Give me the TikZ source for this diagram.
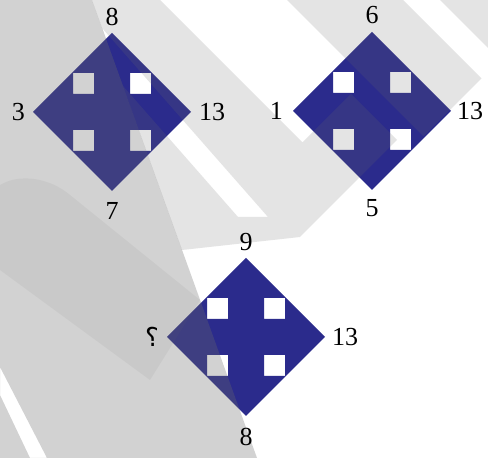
\documentclass[tikz,border=0pt]{standalone}
\usepackage{fontspec}
\setmainfont{Liberation Serif}
\newfontfamily\arabicfont[Script=Arabic]{DejaVu Sans}
\usepackage{tikz}
\usetikzlibrary{positioning,calc}

\definecolor{tilefill}{RGB}{43,43,140}
\definecolor{wmgray}{RGB}{106,106,106}
\tikzset{
    tile/.style={fill=tilefill, even odd rule},
    num/.style={inner sep=0pt, font=\fontsize{26}{30}\selectfont},
    wmark/.style={fill=wmgray},
}

\begin{document}
\begin{tikzpicture}[x=1pt, y=1pt]
    \useasboundingbox (0,0) rectangle (488,458);
    \fill[white] (0,0) rectangle (488,458);
    % tiles with the four cut-outs
    \foreach \d/\cx/\cy in {a/112/346, b/372/347, c/246/121} {
        \begin{scope}[shift={(\cx,\cy)}]
            \coordinate (\d) at (0,0);
            \coordinate (\d-n) at (0,79);
            \coordinate (\d-s) at (0,-79);
            \coordinate (\d-w) at (-79,0);
            \coordinate (\d-e) at (79,0);
            \fill[tile] (\d-n) -- (\d-e) -- (\d-s) -- (\d-w) -- cycle
                (-39,18) rectangle (-18,39)
                (18,18) rectangle (39,39)
                (-39,-39) rectangle (-18,-18)
                (18,-39) rectangle (39,-18);
        \end{scope}
    }
    % watermark
    \fill[wmark, opacity=0.3, even odd rule] (0,458) -- (92,458) -- (257,0) -- (0,0) -- cycle
        (0,91) -- (47,0) -- (30,0) -- (0,63) -- cycle;
    \fill[wmark, opacity=0.08] (0,273) .. controls (20,285) and (50,280) .. (70,263) -- (200,158) -- (150,78) -- (0,188) -- cycle;
    \fill[wmark, opacity=0.18, even odd rule] (92,458) -- (160,458) -- (302.5,315.5) -- (351,364) -- (397,318) -- (300,221) -- (182,208) -- cycle
        (102,430) -- (123,372) -- (238,241) -- (268,241) -- cycle;
    \fill[wmark, opacity=0.18] (287,458) -- (403,458) -- (481.5,379.5) -- (423.5,321.5) -- cycle;
    \fill[wmark, opacity=0.18] (440,458) -- (488,458) -- (488,410) -- cycle;
    % numbers
    \node[num, above=7pt of a-n] (a-top) {8};
    \node[num, below=11pt of a-s] (a-bot) {7};
    \node[num, left=8pt of a-w] (a-left) {3};
    \node[num, right=8pt of a-e] (a-right) {13};
    \node[num, above=8pt of b-n] (b-top) {6};
    \node[num, below=9pt of b-s] (b-bot) {5};
    \node[num, left=10pt of b-w] (b-left) {1};
    \node[num, right=6pt of b-e] (b-right) {13};
    \node[num, above=7pt of c-n] (c-top) {9};
    \node[num, below=12pt of c-s] (c-bot) {8};
    \node[num, left=8pt of c-w] (c-left) {\arabicfont ؟};
    \node[num, right=7pt of c-e] (c-right) {13};
\end{tikzpicture}
\end{document}
